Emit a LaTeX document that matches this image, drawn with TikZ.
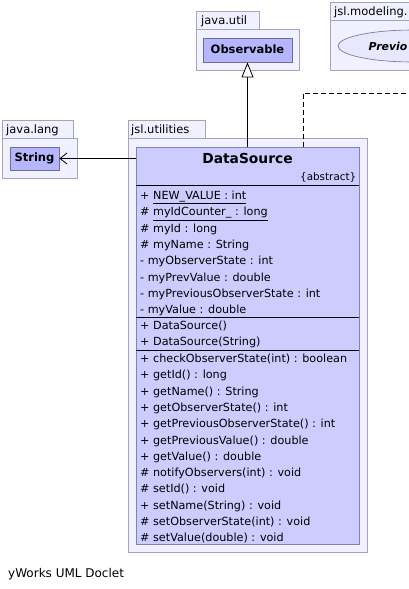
\documentclass[tikz,border=0pt]{standalone}
\usepackage{fontspec}
\setmainfont{DejaVu Sans}
\usetikzlibrary{arrows.meta,shapes.geometric}
\definecolor{pkgfill}{RGB}{240,240,255}
\definecolor{pkgdraw}{RGB}{165,165,185}
\definecolor{clsfill}{RGB}{204,204,255}
\definecolor{clsdraw}{RGB}{130,130,170}
\definecolor{extfill}{RGB}{182,182,255}
\definecolor{extdraw}{RGB}{110,110,150}
\definecolor{ellfill}{RGB}{232,232,252}
\tikzset{
  pkg/.style={draw=pkgdraw, fill=pkgfill, line width=0.8pt},
  pkglabel/.style={inner sep=0pt, anchor=base west, font=\fontsize{11.5}{13}\selectfont},
  extcls/.style={draw=extdraw, fill=extfill, line width=0.8pt, inner sep=0pt, text height=8.4pt, text depth=2.4pt, font=\fontsize{11.5}{13}\bfseries},
  member/.style={inner sep=0pt, anchor=base west, font=\fontsize{11.2}{13}\selectfont},
  sepline/.style={line width=0.9pt, black},
  conn/.style={line width=0.8pt, black}
}
\begin{document}
\begin{tikzpicture}[x=1pt,y=-1pt]
\useasboundingbox[fill=white] (0,0) rectangle (409,589);
\begin{scope}
\clip (0,0) rectangle (409,589);
% java.util package
\draw[pkg] (196,11) rectangle (259,29);
\draw[pkg] (196,29) rectangle (299,70);
\node[pkglabel] (pju) at (201,24.5) {java.util};
\node[extcls, minimum width=89pt, minimum height=24pt] (obs) at (247.5,50) {Observable};
% jsl.modeling package (clipped)
\draw[pkg] (330,2) rectangle (430,20);
\draw[pkg] (330,20) rectangle (430,70);
\node[pkglabel] (pjm) at (334,15.5) {jsl.modeling.};
\node[draw=extdraw, fill=ellfill, line width=0.6pt, ellipse, minimum width=150pt, minimum height=32pt, inner sep=0pt] (prev) at (413,46) {};
\node[inner sep=0pt, anchor=west, font=\fontsize{10.9}{13}\bfseries\itshape] (prevt) at (368.5,46) {Previo};
% java.lang package
\draw[pkg] (2,120) rectangle (73,138);
\draw[pkg] (2,138) rectangle (77,178);
\node[pkglabel] (pjl) at (6,133.5) {java.lang};
\node[extcls, minimum width=49pt, minimum height=23pt] (str) at (34.5,158.5) {String};
% jsl.utilities package
\draw[pkg] (128,120) rectangle (205,138);
\draw[pkg] (128,138) rectangle (367,552);
\node[pkglabel] (pju2) at (131,133.5) {jsl.utilities};
% DataSource class
\node[draw=clsdraw, fill=clsfill, line width=0.8pt, minimum width=223pt, minimum height=397pt, anchor=north west, inner sep=0pt] (ds) at (136,147) {};
\node[inner sep=0pt, anchor=base, font=\fontsize{13.8}{15}\bfseries] (dsname) at (247.5,163.5) {DataSource};
\node[inner sep=0pt, anchor=base east, font=\fontsize{10.4}{12}\selectfont] (dsabs) at (356.5,180) {\{abstract\}};
\draw[sepline] (136,185) -- (359,185);
\draw[sepline] (136,317) -- (359,317);
\draw[sepline] (136,350) -- (359,350);
% attributes
\node[member] (a1) at (140,199.5) {+ \underline{NEW\_VALUE : int}};
\node[member] (a2) at (140,215.8) {\# \underline{myIdCounter\_ : long}};
\node[member] (a3) at (140,232.1) {\# myId : long};
\node[member] (a4) at (140,248.4) {\# myName : String};
\node[member] (a5) at (140,264.7) {- myObserverState : int};
\node[member] (a6) at (140,281.0) {- myPrevValue : double};
\node[member] (a7) at (140,297.3) {- myPreviousObserverState : int};
\node[member] (a8) at (140,313.6) {- myValue : double};
% constructors
\node[member] (c1) at (140,329.5) {+ DataSource()};
\node[member] (c2) at (140,345.8) {+ DataSource(String)};
% methods
\node[member] (m1) at (140,362.5) {+ checkObserverState(int) : boolean};
\node[member] (m2) at (140,378.8) {+ getId() : long};
\node[member] (m3) at (140,395.1) {+ getName() : String};
\node[member] (m4) at (140,411.4) {+ getObserverState() : int};
\node[member] (m5) at (140,427.7) {+ getPreviousObserverState() : int};
\node[member] (m6) at (140,444.0) {+ getPreviousValue() : double};
\node[member] (m7) at (140,460.3) {+ getValue() : double};
\node[member] (m8) at (140,476.6) {\# notifyObservers(int) : void};
\node[member] (m9) at (140,492.9) {\# setId() : void};
\node[member] (m10) at (140,509.2) {+ setName(String) : void};
\node[member] (m11) at (140,525.5) {\# setObserverState(int) : void};
\node[member] (m12) at (140,541.8) {\# setValue(double) : void};
% connectors
\draw[conn, -{Triangle[open, length=15pt, width=12pt, fill=white]}] (ds.north -| obs.south) -- (obs.south);
\draw[conn, -{Straight Barb[length=7pt, width=11pt]}] (ds.west |- str.east) -- (str.east);
\coordinate (dsdep) at (303,147);
\coordinate (prevend) at (412,93);
\draw[conn, dash pattern=on 5pt off 3pt] (dsdep) -- (303,93) -- (prevend);
\end{scope}
\node[inner sep=0pt, anchor=base west, font=\fontsize{12}{14}\selectfont] (credit) at (8,577) {yWorks UML Doclet};
\end{tikzpicture}
\end{document}
